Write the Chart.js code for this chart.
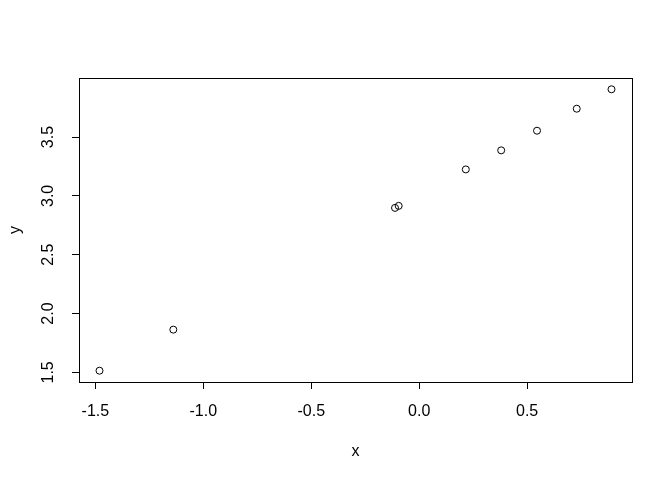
<!DOCTYPE html>
<html>
<head>
<meta charset="utf-8">
<script src="https://cdn.jsdelivr.net/npm/chart.js@4"></script>
<style>
  html, body { margin: 0; padding: 0; background: #fff; }
  #wrap { width: 672px; height: 480px; }
</style>
</head>
<body>
<div id="wrap"><canvas id="myChart" width="672" height="480"></canvas></div>
<script>
// values
const xs = [-1.481, -1.139, -0.112, -0.095, 0.216, 0.380, 0.546, 0.730, 0.891];
const ys = [1.514, 1.863, 2.898, 2.915, 3.225, 3.387, 3.554, 3.741, 3.906];
const xTicks = [-1.5, -1.0, -0.5, 0.0, 0.5];
const yTicks = [1.5, 2.0, 2.5, 3.0, 3.5];
const xRange = [-1.576, 0.986];
const yRange = [1.418, 4.002];

const FONT = 'Liberation Sans, Arial, sans-serif';

// box round the plot + rotated y tick labels (R style)
const rBox = {
    id: 'rBox',
    afterDraw(chart) {
        const c = chart.ctx, a = chart.chartArea;
        c.save();
        c.strokeStyle = '#000';
        c.lineWidth = 1;
        c.strokeRect(Math.round(a.left) + 0.5, Math.round(a.top) + 0.5,
            Math.round(a.right - a.left), Math.round(a.bottom - a.top));
        const ys_ = chart.scales.y;
        c.fillStyle = '#000';
        c.font = '16px ' + FONT;
        c.textAlign = 'center';
        c.textBaseline = 'middle';
        yTicks.forEach(v => {
            const py = ys_.getPixelForValue(v);
            c.save();
            c.translate(49, py);
            c.rotate(-Math.PI / 2);
            c.fillText(v.toFixed(1), 0, 0);
            c.restore();
        });
        c.restore();
    }
};

var chart = new Chart(document.getElementById('myChart'), {
    type: 'scatter',
    data: {
        datasets: [{
            data: xs.map((x, i) => ({ x: x, y: ys[i] })),
            pointRadius: 3.5,
            pointHoverRadius: 3.5,
            pointBorderWidth: 1,
            pointBorderColor: '#000',
            pointBackgroundColor: 'rgba(0,0,0,0)'
        }]
    },
    options: {
        responsive: false,
        animation: false,
        layout: { padding: { top: 78, right: 40, left: 0, bottom: 0 } },
        plugins: { legend: { display: false }, tooltip: { enabled: false } },
        scales: {
            x: {
                type: 'linear',
                min: xRange[0], max: xRange[1],
                afterBuildTicks: s => { s.ticks = xTicks.map(v => ({ value: v })); },
                afterFit: s => { s.height = 98; },
                grid: { drawOnChartArea: false, drawTicks: true, tickLength: 7, color: '#000' },
                border: { display: false },
                ticks: {
                    color: '#000', padding: 13, maxRotation: 0,
                    font: { family: FONT, size: 16 },
                    callback: v => v.toFixed(1)
                },
                title: {
                    display: true, text: 'x', color: '#000',
                    font: { family: FONT, size: 16 },
                    padding: { top: 20, bottom: 19 }
                }
            },
            y: {
                type: 'linear',
                min: yRange[0], max: yRange[1],
                afterBuildTicks: s => { s.ticks = yTicks.map(v => ({ value: v })); },
                afterFit: s => { s.width = 79; },
                grid: { drawOnChartArea: false, drawTicks: true, tickLength: 7, color: '#000' },
                border: { display: false },
                ticks: { display: false },
                title: {
                    display: true, text: 'y', color: '#000',
                    font: { family: FONT, size: 16 },
                    padding: { top: 6, bottom: 0 }
                }
            }
        }
    },
    plugins: [rBox]
});
</script>
</body>
</html>
